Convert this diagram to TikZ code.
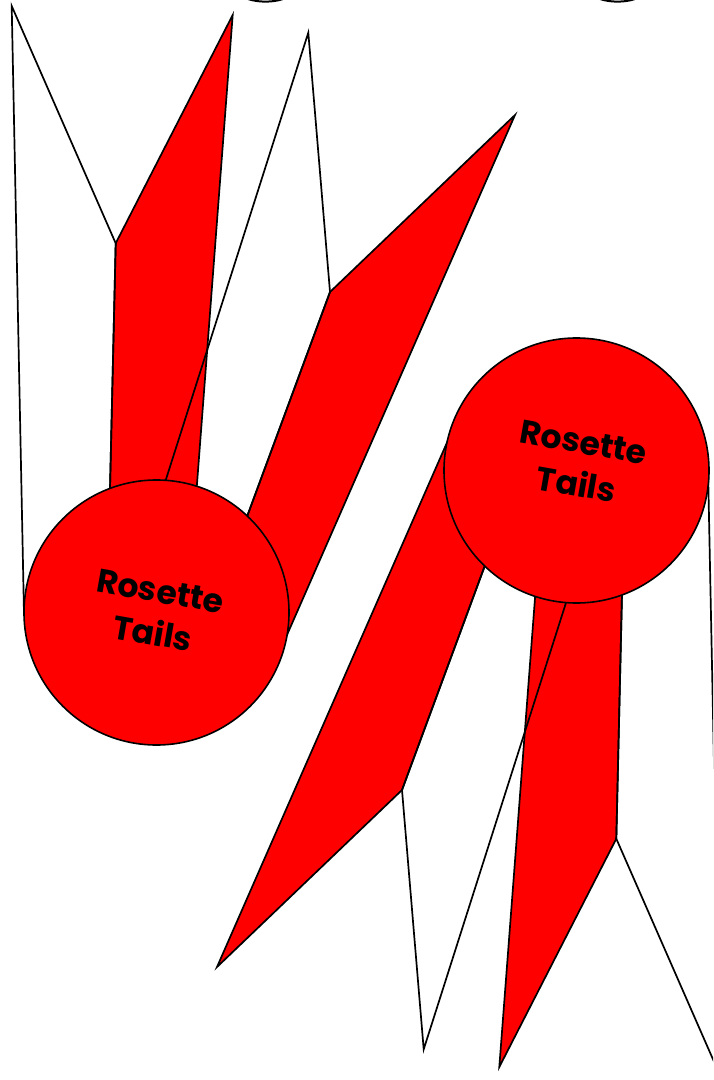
\documentclass[tikz,border=0pt]{standalone}
\usepackage{fontspec}
\setmainfont{Poppins}
\usetikzlibrary{calc}
\tikzset{tail front/.style={fill=red,draw=black,line width=0.85pt}}
\tikzset{tail back/.style={draw=black,line width=0.85pt}}
\tikzset{rosette/.style={circle,fill=red,draw=black,line width=0.8pt,minimum size=132.5pt,inner sep=0}}
\tikzset{rosette label/.style={font=\bfseries\fontsize{16.5}{21.5}\selectfont,align=center,rotate=-10,inner sep=0}}
\def\rosettetails{%
  %赤い表側
  \draw[tail front] (115.7,243.3) -- (232.7,15) -- (195,510) -- (109.5,510) -- cycle;
  \draw[tail front] (330,292) -- (515,115) -- (276,660) -- (231,560) -- cycle;
  %白い裏側（線だけ）
  \draw[tail back] (24,614) -- (11.7,6) -- (115.7,243.3) -- (109.5,510);
  \draw[tail back] (159.4,500) -- (308.3,32.7) -- (330,292) -- (231,560);
}

\begin{document}
\begin{tikzpicture}[x=0.5pt,y=-0.5pt]
      \useasboundingbox (0,0) rectangle (713,1080);
      \clip (0,0) rectangle (713,1080);

      %左上のロゼット
      \rosettetails
      \node[rosette] (ul) at (156.5,612.5) {};
      \node[rosette label] (ul text) at (ul.center) {Rosette\\Tails};

      %右下のロゼット（180度回したもの）
      \begin{scope}[rotate around={180:(366,541)}]
        \rosettetails
      \end{scope}
      \node[rosette] (lr) at (576.5,470.5) {};
      \node[rosette label] (lr text) at ($(lr.center)+(3.5,-7)$) {Rosette\\Tails};

      %上の端で切れた線
      \draw[line width=1pt] (248,-1) .. controls (258,2.5) and (273,2.5) .. (283,-1);
      \draw[line width=1pt] (600,-1) .. controls (610,2.5) and (625,2.5) .. (635,-1);

    \end{tikzpicture}
\end{document}
